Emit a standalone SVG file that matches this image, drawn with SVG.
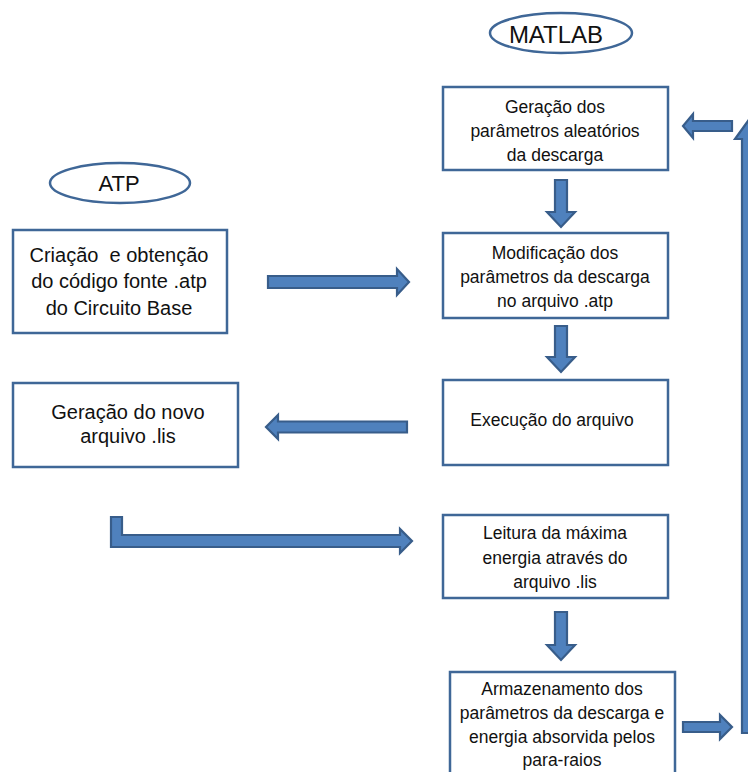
<svg xmlns="http://www.w3.org/2000/svg" width="748" height="772" viewBox="0 0 748 772">
<style>
.box{fill:#fff;stroke:#3F6797;stroke-width:2.5}
.ell{fill:#fff;stroke:#3F6797;stroke-width:2.5}
.t{font-family:"Liberation Sans",Arial,sans-serif;fill:#111;text-anchor:middle}
.r{font-size:17.5px}
.l{font-size:20px}
.arr{fill:#4F81BD;stroke:#385D8A;stroke-width:2.2;stroke-linejoin:miter}
</style>
<rect width="748" height="772" fill="#fff"/>
<g id="matlab"><ellipse class="ell" cx="561" cy="33" rx="71" ry="20"/><text class="t" x="556" y="43" font-size="24">MATLAB</text></g>
<g id="atp"><ellipse class="ell" cx="120" cy="183" rx="70" ry="20"/><text class="t" x="119" y="191" font-size="22">ATP</text></g>
<g id="n-criacao"><rect class="box" x="13" y="230" width="214" height="103"/>
<text class="t l" x="119" y="262" xml:space="preserve">Criação  e obtenção</text>
<text class="t l" x="119" y="288">do código fonte .atp</text>
<text class="t l" x="119" y="315">do Circuito Base</text></g>
<g id="n-lis"><rect class="box" x="13" y="383" width="225" height="84"/>
<text class="t l" x="128" y="419">Geração do novo</text>
<text class="t l" x="128" y="443">arquivo .lis</text></g>
<g id="n-geracao"><rect class="box" x="443" y="87" width="225" height="83"/>
<text class="t r" x="555" y="113">Geração dos</text>
<text class="t r" x="555" y="137">parâmetros aleatórios</text>
<text class="t r" x="555" y="161">da descarga</text></g>
<g id="n-modif"><rect class="box" x="443" y="233" width="225" height="85"/>
<text class="t r" x="555" y="259">Modificação dos</text>
<text class="t r" x="555" y="283">parâmetros da descarga</text>
<text class="t r" x="555" y="307">no arquivo .atp</text></g>
<g id="n-exec"><rect class="box" x="443" y="380" width="225" height="85"/>
<text class="t r" x="552" y="426">Execução do arquivo</text></g>
<g id="n-leitura"><rect class="box" x="443" y="515" width="225" height="83"/>
<text class="t r" x="555" y="539">Leitura da máxima</text>
<text class="t r" x="555" y="564">energia através do</text>
<text class="t r" x="555" y="588">arquivo .lis</text></g>
<g id="n-armaz"><rect class="box" x="450" y="672" width="225" height="110"/>
<text class="t r" x="562" y="695">Armazenamento dos</text>
<text class="t r" x="562" y="719">parâmetros da descarga e</text>
<text class="t r" x="562" y="743">energia absorvida pelos</text>
<text class="t r" x="562" y="766">para-raios</text></g>
<g id="connectors">
<polygon class="arr" points="268,276 397,276 397,269 409,282 397,295 397,288 268,288"/>
<polygon class="arr" points="407,421.5 278,421.5 278,415 266,427 278,439 278,432.5 407,432.5"/>
<polygon class="arr" points="111,517 122,517 122,535 400,535 400,529 412,541 400,553 400,547 111,547"/>
<polygon class="arr" points="555,180 567,180 567,212 575,212 561,227 547,212 555,212"/>
<polygon class="arr" points="555,326 567,326 567,357 575,357 561,372 547,357 555,357"/>
<polygon class="arr" points="555,612 567,612 567,645 575,645 561,660 547,645 555,645"/>
<polygon class="arr" points="732,121 693,121 693,114 683,126 693,138 693,131 732,131"/>
<polygon class="arr" points="683,722 720,722 720,715 732,727 720,739 720,732 683,732"/>
<polygon class="arr" points="742,733 742,139 735,139 748,121 761,139 754,139 754,733"/>
</g>
</svg>
